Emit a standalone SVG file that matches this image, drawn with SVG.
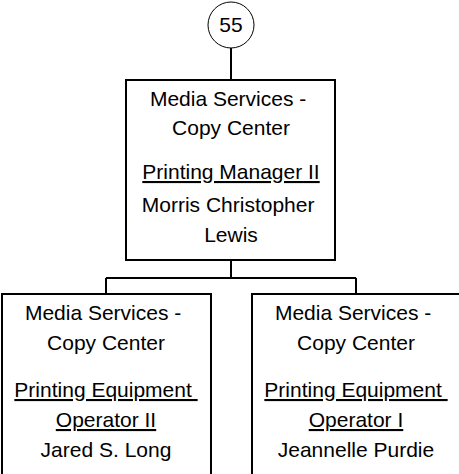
<svg xmlns="http://www.w3.org/2000/svg" width="459" height="474" viewBox="0 0 459 474">
<style>
.box{fill:#fff;stroke:#000;stroke-width:2}
.con{fill:none;stroke:#000;stroke-width:2}
text{font-family:"Liberation Sans",Arial,sans-serif;font-size:21px;fill:#000;text-anchor:middle;white-space:pre}
.u{text-decoration:underline}
</style>
<rect width="459" height="474" fill="#fff"/>
<g id="connectors">
<path class="con" d="M231,48V80M231,260V278M106,278H356M106,278V294M356,278V294"/>
</g>
<g id="n55">
<circle cx="231" cy="25" r="23" fill="#fff" stroke="#000" stroke-width="1"/>
<text x="231" y="32">55</text>
</g>
<g id="manager">
<rect class="box" x="126" y="80" width="209" height="180"/>
<text x="231" y="106" xml:space="preserve">Media Services - </text>
<text x="231" y="135">Copy Center</text>
<text class="u" x="231" y="179">Printing Manager II</text>
<text x="231" y="212" xml:space="preserve">Morris Christopher </text>
<text x="231" y="242">Lewis</text>
</g>
<g id="op2">
<rect class="box" x="2" y="294" width="209" height="200"/>
<text x="106" y="320" xml:space="preserve">Media Services - </text>
<text x="106" y="350">Copy Center</text>
<text class="u" x="106" y="397" xml:space="preserve">Printing Equipment </text>
<text class="u" x="106" y="427">Operator II</text>
<text x="106" y="457">Jared S. Long</text>
</g>
<g id="op1">
<rect class="box" x="252" y="294" width="209" height="200"/>
<text x="356" y="320" xml:space="preserve">Media Services - </text>
<text x="356" y="350">Copy Center</text>
<text class="u" x="356" y="397" xml:space="preserve">Printing Equipment </text>
<text class="u" x="356" y="427">Operator I</text>
<text x="356" y="457">Jeannelle Purdie</text>
</g>
</svg>
